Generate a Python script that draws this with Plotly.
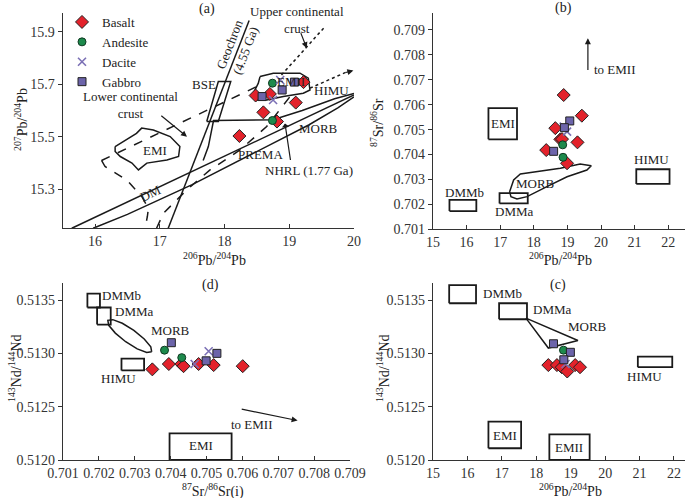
import plotly.graph_objects as go

W, H = 685, 498
FONT = "Liberation Serif"


def pxx(x):
    return x / W


def pxy(y):
    return 1 - y / H


# ---------------- sample data ----------------
# panel (a): 206Pb/204Pb vs 207Pb/204Pb
a_basalt_x = [19.22, 18.48, 18.70, 19.10, 18.60, 18.81, 18.23]
a_basalt_y = [15.708, 15.657, 15.663, 15.630, 15.593, 15.558, 15.503]
a_andesite_x = [18.74, 18.74]
a_andesite_y = [15.704, 15.562]
a_dacite_x = [18.86, 18.75]
a_dacite_y = [15.716, 15.640]
a_gabbro_x = [19.08, 18.89, 18.58]
a_gabbro_y = [15.708, 15.678, 15.653]

# panel (b): 206Pb/204Pb vs 87Sr/86Sr
b_basalt_x = [18.89, 19.43, 18.64, 18.79, 18.84, 19.30, 18.37, 18.99]
b_basalt_y = [0.70639, 0.70556, 0.70506, 0.70461, 0.70462, 0.70449, 0.70418, 0.70365]
b_andesite_x = [18.86, 18.87]
b_andesite_y = [0.70439, 0.70389]
b_dacite_x = [18.89, 18.99]
b_dacite_y = [0.70512, 0.70492]
b_gabbro_x = [19.07, 18.91, 18.59]
b_gabbro_y = [0.70535, 0.70508, 0.70413]

# panel (d): 87Sr/86Sr(i) vs 143Nd/144Nd
d_basalt_x = [0.70349, 0.70395, 0.70430, 0.70436, 0.70478, 0.70520, 0.70601]
d_basalt_y = [0.51285, 0.51290, 0.51290, 0.51288, 0.51290, 0.51289, 0.51288]
d_andesite_x = [0.70383, 0.70431]
d_andesite_y = [0.51303, 0.51296]
d_dacite_x = [0.70467, 0.70506]
d_dacite_y = [0.51290, 0.51302]
d_gabbro_x = [0.70402, 0.70499, 0.70529]
d_gabbro_y = [0.51310, 0.51293, 0.51300]

# panel (c): 206Pb/204Pb vs 143Nd/144Nd
c_basalt_x = [18.35, 18.60, 18.74, 18.90, 19.13, 19.27]
c_basalt_y = [0.51289, 0.51289, 0.51287, 0.51283, 0.51289, 0.51287]
c_andesite_x = [18.79]
c_andesite_y = [0.51303]
c_dacite_x = [18.85]
c_dacite_y = [0.51290]
c_gabbro_x = [18.50, 18.99, 18.80]
c_gabbro_y = [0.51309, 0.51301, 0.51294]

# ---------------- reference fields ----------------
# panel (a)
a_nhrl_x = [15.64, 20.0]
a_nhrl_y = [15.152, 15.659]
a_dm_x = [15.97, 16.5, 17.5, 18.5, 19.3, 19.75, 20.0]
a_dm_y = [15.152, 15.205, 15.318, 15.445, 15.545, 15.61, 15.652]
a_morb_x = [17.67, 17.75, 17.83, 18.75, 19.2, 19.7, 20.0]
a_morb_y = [15.41, 15.463, 15.562, 15.565, 15.60, 15.645, 15.665]
a_geochron_x = [17.13, 18.38]
a_geochron_y = [15.152, 15.942]
a_bse_x = [17.725, 17.904, 18.096, 17.904, 17.725]
a_bse_y = [15.558, 15.558, 15.71, 15.71, 15.558]
a_emi_x = [16.31, 16.64, 16.72, 16.90, 17.16, 17.31, 17.29, 17.11, 16.80, 16.67, 16.57, 16.39, 16.31, 16.31]
a_emi_y = [15.463, 15.513, 15.533, 15.526, 15.501, 15.463, 15.425, 15.412, 15.40, 15.374, 15.40, 15.425, 15.444, 15.463]
a_emii_x = [18.548, 18.754, 19.166, 19.294, 19.32, 19.217, 18.908, 18.652, 18.497, 18.445, 18.522, 18.548]
a_emii_y = [15.729, 15.742, 15.742, 15.723, 15.678, 15.666, 15.653, 15.640, 15.640, 15.666, 15.704, 15.729]
a_lcc_top_x = [16.10, 18.55]
a_lcc_top_y = [15.41, 15.697]
a_lcc_left_x = [16.10, 16.154, 16.489, 16.721, 16.824, 16.808, 16.772]
a_lcc_left_y = [15.41, 15.387, 15.336, 15.273, 15.228, 15.197, 15.152]
a_lcc_right_x = [16.95, 17.055, 17.416, 17.776, 18.239, 18.651, 19.012]
a_lcc_right_y = [15.152, 15.209, 15.298, 15.374, 15.45, 15.539, 15.653]
a_himu_trend_x = [19.32, 19.90]
a_himu_trend_y = [15.685, 15.748]
a_ucc_trend_x = [18.88, 19.53]
a_ucc_trend_y = [15.735, 15.913]

# panel (b) boxes [x0, x1, y0, y1]
b_boxes = {
    "EMI": [16.65, 17.50, 0.70461, 0.70586],
    "DMMb": [15.49, 16.29, 0.70173, 0.70218],
    "DMMa": [16.98, 17.82, 0.70204, 0.70245],
    "HIMU": [21.05, 22.04, 0.70282, 0.70341],
}
b_morb_x = [17.28, 17.40, 17.60, 18.19, 18.79, 19.38, 19.71, 19.58, 18.99, 18.39, 17.80, 17.50, 17.32, 17.28]
b_morb_y = [0.70251, 0.70298, 0.70322, 0.70334, 0.70345, 0.70362, 0.70355, 0.70338, 0.70311, 0.70271, 0.70231, 0.70222, 0.70231, 0.70251]

# panel (d)
d_boxes = {
    "DMMb": [0.70168, 0.70203, 0.51343, 0.51356],
    "DMMa": [0.70195, 0.70233, 0.51327, 0.51343],
    "HIMU": [0.70263, 0.70326, 0.51284, 0.51295],
    "EMI": [0.70397, 0.70570, 0.51200, 0.51225],
}
d_morb_x = [0.703472, 0.703333, 0.703069, 0.702747, 0.702458, 0.702275, 0.70225, 0.702389, 0.702653,
            0.702975, 0.703264, 0.703447, 0.703472]
d_morb_y = [0.513015, 0.513008, 0.513042, 0.513109, 0.51319, 0.513263, 0.51331, 0.513316, 0.513282,
            0.513216, 0.513135, 0.513061, 0.513015]

# panel (c)
c_boxes = {
    "DMMb": [15.47, 16.25, 0.51347, 0.51364],
    "DMMa": [16.92, 17.73, 0.51332, 0.51347],
    "HIMU": [20.95, 21.95, 0.51287, 0.51297],
    "EMI": [16.61, 17.56, 0.51211, 0.51236],
    "EMII": [18.38, 19.55, 0.51200, 0.51224],
}
c_morb_x = [17.70, 19.21, 18.35, 17.70]
c_morb_y = [0.51333, 0.51312, 0.51305, 0.51333]

fig = go.Figure()


def field(x, y, xa, ya, dash="solid", width=1.5):
    fig.add_trace(go.Scatter(x=x, y=y, mode="lines", xaxis=xa, yaxis=ya,
                             line=dict(color="#1a1a1a", width=width, dash=dash),
                             showlegend=False, hoverinfo="skip"))


def box(b, xa, ya):
    x0, x1, y0, y1 = b
    field([x0, x1, x1, x0, x0], [y0, y0, y1, y1, y0], xa, ya, width=1.8)


# panel (a) fields
field(a_nhrl_x, a_nhrl_y, "x", "y")
field(a_dm_x, a_dm_y, "x", "y")
field(a_morb_x, a_morb_y, "x", "y")
field(a_geochron_x, a_geochron_y, "x", "y")
field(a_bse_x, a_bse_y, "x", "y")
field(a_emi_x, a_emi_y, "x", "y")
field(a_emii_x, a_emii_y, "x", "y")
field(a_lcc_top_x, a_lcc_top_y, "x", "y", dash="dash")
field(a_lcc_left_x, a_lcc_left_y, "x", "y", dash="dash")
field(a_lcc_right_x, a_lcc_right_y, "x", "y", dash="dash")
field(a_himu_trend_x, a_himu_trend_y, "x", "y", dash="dot")
field(a_ucc_trend_x, a_ucc_trend_y, "x", "y", dash="dot")

# panel (b) fields
for k, b in b_boxes.items():
    box(b, "x2", "y2")
field(b_morb_x, b_morb_y, "x2", "y2")

# panel (d) fields
for k, b in d_boxes.items():
    box(b, "x3", "y3")
field(d_morb_x, d_morb_y, "x3", "y3")

# panel (c) fields
for k, b in c_boxes.items():
    box(b, "x4", "y4")
field(c_morb_x, c_morb_y, "x4", "y4")

STY = {
    "Basalt": dict(symbol="diamond", size=10, color="#e3222b", line=dict(color="#222", width=1)),
    "Andesite": dict(symbol="circle", size=8, color="#1d8a4c", line=dict(color="#0f3a22", width=1)),
    "Dacite": dict(symbol="x-thin", size=8, color="#7b70b5", line=dict(color="#7b70b5", width=1.6)),
    "Gabbro": dict(symbol="square", size=8, color="#6c64aa", line=dict(color="#222", width=1)),
}

panels = [
    ("x", "y", [(a_basalt_x, a_basalt_y), (a_andesite_x, a_andesite_y), (a_dacite_x, a_dacite_y), (a_gabbro_x, a_gabbro_y)]),
    ("x2", "y2", [(b_basalt_x, b_basalt_y), (b_andesite_x, b_andesite_y), (b_dacite_x, b_dacite_y), (b_gabbro_x, b_gabbro_y)]),
    ("x3", "y3", [(d_basalt_x, d_basalt_y), (d_andesite_x, d_andesite_y), (d_dacite_x, d_dacite_y), (d_gabbro_x, d_gabbro_y)]),
    ("x4", "y4", [(c_basalt_x, c_basalt_y), (c_andesite_x, c_andesite_y), (c_dacite_x, c_dacite_y), (c_gabbro_x, c_gabbro_y)]),
]
names = ["Basalt", "Andesite", "Dacite", "Gabbro"]
for i, (xa, ya, series) in enumerate(panels):
    for name, (sx, sy) in zip(names, series):
        fig.add_trace(go.Scatter(x=sx, y=sy, mode="markers", name=name, xaxis=xa, yaxis=ya,
                                 marker=STY[name], showlegend=(i == 0), legendgroup=name))

ann = []


def lab(text, x, y, xa, ya, angle=0, size=13, xanchor="center"):
    ann.append(dict(text=text, x=x, y=y, xref=xa, yref=ya, showarrow=False,
                    font=dict(family=FONT, size=size, color="#222"), textangle=angle, xanchor=xanchor))


def arrow(x, y, ax, ay, xa, ya, head=2):
    ann.append(dict(text="", x=x, y=y, ax=ax, ay=ay, xref=xa, yref=ya, axref=xa, ayref=ya,
                    showarrow=True, arrowhead=head, arrowsize=1, arrowwidth=1.2, arrowcolor="#1a1a1a"))


# panel (a) labels
lab("EMI", 16.93, 15.448, "x", "y")
lab("EMII", 19.03, 15.712, "x", "y")
lab("HIMU", 19.66, 15.675, "x", "y")
lab("BSE", 17.68, 15.70, "x", "y")
lab("DM", 16.85, 15.283, "x", "y", angle=-25)
lab("PREMA", 18.55, 15.433, "x", "y")
lab("MORB", 19.45, 15.531, "x", "y")
lab("NHRL (1.77 Ga)", 19.30, 15.372, "x", "y")
lab("Geochron<br>(4.55 Ga)", 18.20, 15.843, "x", "y", angle=-69)
lab("Upper continental<br>crust", 19.12, 15.945, "x", "y")
lab("Lower continental<br>crust", 16.55, 15.622, "x", "y")
arrow(18.934, 15.551, 19.022, 15.406, "x", "y", head=1)
arrow(19.27, 15.837, 19.17, 15.90, "x", "y", head=2)
arrow(17.42, 15.50, 17.0, 15.585, "x", "y", head=2)
arrow(19.99, 15.752, 19.85, 15.743, "x", "y", head=2)

# panel (b) labels
lab("EMI", 17.08, 0.70524, "x2", "y2")
lab("DMMb", 15.95, 0.70248, "x2", "y2")
lab("DMMa", 17.42, 0.70170, "x2", "y2")
lab("HIMU", 21.50, 0.70381, "x2", "y2")
lab("MORB", 18.05, 0.70285, "x2", "y2")
lab("to EMII", 19.72, 0.70740, "x2", "y2", xanchor="left")
arrow(19.61, 0.70867, 19.61, 0.70733, "x2", "y2")

# panel (d) labels
lab("DMMb", 0.70262, 0.51354, "x3", "y3")
lab("DMMa", 0.70300, 0.51339, "x3", "y3")
lab("MORB", 0.70400, 0.51321, "x3", "y3")
lab("HIMU", 0.70254, 0.51276, "x3", "y3")
lab("EMI", 0.70485, 0.51214, "x3", "y3")
lab("to EMII", 0.70627, 0.51233, "x3", "y3")
arrow(0.70754, 0.51237, 0.70594, 0.51248, "x3", "y3")

# panel (c) labels
lab("DMMb", 17.02, 0.51356, "x4", "y4")
lab("DMMa", 18.48, 0.51341, "x4", "y4")
lab("MORB", 19.48, 0.51325, "x4", "y4")
lab("HIMU", 21.15, 0.51278, "x4", "y4")
lab("EMI", 17.08, 0.51223, "x4", "y4")
lab("EMII", 18.96, 0.51212, "x4", "y4")


def plab(text, x, y, angle=0, size=14):
    ann.append(dict(text=text, x=pxx(x), y=pxy(y), xref="paper", yref="paper", showarrow=False,
                    font=dict(family=FONT, size=size, color="#222"), textangle=angle,
                    xanchor="center", yanchor="middle"))


plab("(a)", 207, 9)
plab("(b)", 563, 8)
plab("(d)", 210, 285)
plab("(c)", 558, 285)
PB6 = "<sup>206</sup>Pb/<sup>204</sup>Pb"
plab(PB6, 214, 259)
plab(PB6, 560, 259)
plab(PB6, 570, 490)
plab("<sup>87</sup>Sr/<sup>86</sup>Sr(i)", 213, 490)
plab("<sup>207</sup>Pb/<sup>204</sup>Pb", 21, 120, angle=-90)
plab("<sup>87</sup>Sr/<sup>86</sup>Sr", 377, 123, angle=-90)
plab("<sup>143</sup>Nd/<sup>144</sup>Nd", 15, 368, angle=-90)
plab("<sup>143</sup>Nd/<sup>144</sup>Nd", 383, 368, angle=-90)

TICKF = dict(family=FONT, size=14, color="#333")


def xax(domain, rng, vals, fmt=None):
    d = dict(domain=domain, range=rng, tickvals=vals, ticks="inside", ticklen=4, tickcolor="#333",
             showline=True, linecolor="#333", linewidth=1.2, showgrid=False, zeroline=False,
             tickfont=TICKF, mirror=False, automargin=False)
    if fmt:
        d["tickformat"] = fmt
    return d


def yax(domain, rng, vals, fmt=None):
    d = dict(domain=domain, range=rng, tickvals=vals, ticks="outside", ticklen=4, tickcolor="#333",
             showline=True, linecolor="#333", linewidth=1.2, showgrid=False, zeroline=False,
             tickfont=TICKF, mirror=False, automargin=False)
    if fmt:
        d["tickformat"] = fmt
    return d


fig.update_layout(
    width=W, height=H, margin=dict(l=0, r=0, t=0, b=0, autoexpand=False),
    paper_bgcolor="white", plot_bgcolor="white",
    font=dict(family=FONT, size=13, color="#222"),
    xaxis=xax([pxx(62.7), pxx(354)], [15.5, 20.0], [16, 17, 18, 19, 20]),
    yaxis=yax([pxy(228.3), pxy(12.7)], [15.152, 15.972], [15.3, 15.5, 15.7, 15.9], ".1f"),
    xaxis2=dict(xax([pxx(433), 1.0], [15, 22.5], list(range(15, 23))), anchor="y2"),
    yaxis2=dict(yax([pxy(229.3), pxy(13.3)], [0.701, 0.70967],
                    [0.701, 0.702, 0.703, 0.704, 0.705, 0.706, 0.707, 0.708, 0.709], ".3f"), anchor="x2"),
    xaxis3=dict(xax([pxx(63), pxx(350)], [0.701, 0.709],
                    [0.701, 0.702, 0.703, 0.704, 0.705, 0.706, 0.707, 0.708, 0.709], ".3f"), anchor="y3"),
    yaxis3=dict(yax([pxy(460), pxy(283.3)], [0.5120, 0.513657], [0.5120, 0.5125, 0.5130, 0.5135], ".4f"),
                anchor="x3"),
    xaxis4=dict(xax([pxx(433), 1.0], [15, 22.32], list(range(15, 23))), anchor="y4"),
    yaxis4=dict(yax([pxy(460), pxy(283.3)], [0.5120, 0.513657], [0.5120, 0.5125, 0.5130, 0.5135], ".4f"),
                anchor="x4"),
    legend=dict(x=pxx(62), y=pxy(7), xanchor="left", yanchor="top", bgcolor="rgba(0,0,0,0)",
                font=dict(family=FONT, size=13, color="#222"), itemwidth=30, tracegroupgap=0),
    annotations=ann,
)

# the page body has a default 8px margin; remove it so the figure fills the window exactly
fig.write_html("out.html", config={"displayModeBar": False},
               post_script="document.body.style.margin='0px';")
